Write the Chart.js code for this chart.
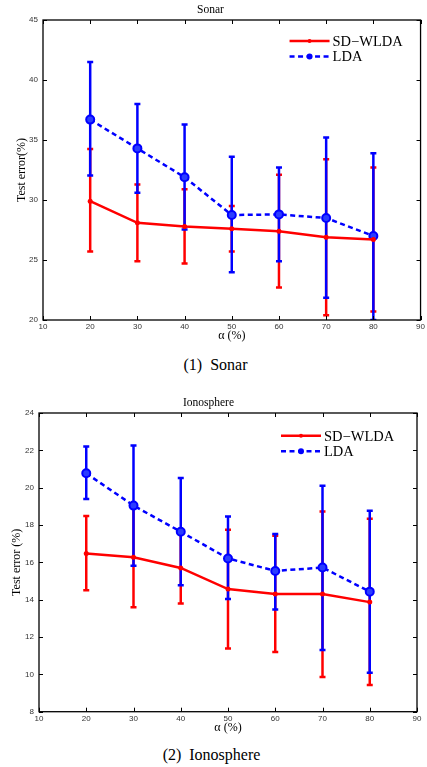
<!DOCTYPE html>
<html>
<head>
<meta charset="utf-8">
<script src="https://cdn.jsdelivr.net/npm/chart.js@4.4.0/dist/chart.umd.min.js"></script>
<style>
  body { margin: 0; background: #fff; width: 427px; height: 767px; position: relative; overflow: hidden; }
  .box { position: absolute; left: 0; width: 427px; }
  .cap { position: absolute; left: 0; width: 427px; text-align: center; font-family: "Liberation Serif", serif; font-size: 16px; line-height: 18px; color: #000; }
</style>
</head>
<body>
<div class="box" style="top:0;height:345px"><canvas id="sonarChart"></canvas></div>
<div class="cap" style="top:356px;left:2px">(1)&nbsp; Sonar</div>
<div class="box" style="top:393px;height:344px"><canvas id="ionoChart"></canvas></div>
<div class="cap" style="top:746px;left:-2px">(2)&nbsp; Ionosphere</div>

<script>
// x values (alpha, %)
const alpha = [20, 30, 40, 50, 60, 70, 80];

// Sonar - mean test error and error bar ends
const sonarSdMean = [29.9, 28.1, 27.8, 27.6, 27.4, 26.9, 26.7];
const sonarSdLow = [25.7, 24.9, 24.7, 25.7, 22.7, 20.4, 20.7];
const sonarSdHigh = [34.25, 31.3, 30.9, 29.5, 32.1, 33.4, 32.7];
const sonarLdaMean = [36.7, 34.3, 31.9, 28.75, 28.8, 28.5, 27.0];
const sonarLdaLow = [32.05, 30.6, 27.55, 23.97, 24.9, 21.86, 20.0];
const sonarLdaHigh = [41.5, 38.0, 36.3, 33.6, 32.7, 35.2, 33.9];

// Ionosphere
const ionoSdMean = [16.48, 16.27, 15.7, 14.57, 14.3, 14.3, 13.87];
const ionoSdLow = [14.5, 13.59, 13.79, 11.39, 11.2, 9.86, 9.43];
const ionoSdHigh = [18.48, 18.95, 17.6, 17.75, 17.43, 18.73, 18.34];
const ionoLdaMean = [20.77, 19.04, 17.64, 16.21, 15.54, 15.72, 14.43];
const ionoLdaLow = [19.4, 15.82, 14.77, 14.04, 13.48, 11.3, 10.09];
const ionoLdaHigh = [22.2, 22.26, 20.52, 18.46, 17.52, 20.1, 18.76];

const seriesNames = ["SD\u2212WLDA", "LDA"];

const RED = "#ff0000";
const BLUE = "#0000ff";

// draws vertical error bars with caps, before the lines
const errorBarPlugin = {
  id: "errorBars",
  beforeDatasetsDraw(chart) {
    const ctx = chart.ctx;
    const xs = chart.scales.x, ys = chart.scales.y;
    ctx.save();
    ctx.beginPath();
    ctx.rect(chart.chartArea.left, chart.chartArea.top, chart.chartArea.width, chart.chartArea.height);
    ctx.clip();
    chart.data.datasets.forEach((ds) => {
      ctx.strokeStyle = ds.borderColor;
      ctx.lineWidth = 2.5;
      ctx.setLineDash([]);
      ds.data.forEach((pt, i) => {
        const x = xs.getPixelForValue(pt.x);
        const yl = ys.getPixelForValue(ds.errLow[i]);
        const yh = ys.getPixelForValue(ds.errHigh[i]);
        ctx.beginPath();
        ctx.moveTo(x, yl);
        ctx.lineTo(x, yh);
        ctx.moveTo(x - 3, yl);
        ctx.lineTo(x + 3, yl);
        ctx.moveTo(x - 3, yh);
        ctx.lineTo(x + 3, yh);
        ctx.stroke();
      });
    });
    ctx.restore();
  }
};

// box around the plot with inward ticks on all four sides, plus legend
const framePlugin = {
  id: "frame",
  afterDraw(chart, args, opts) {
    const ctx = chart.ctx;
    const {left, right, top, bottom} = chart.chartArea;
    const xs = chart.scales.x, ys = chart.scales.y;
    ctx.save();
    ctx.strokeStyle = "#000";
    ctx.lineWidth = 1;
    ctx.beginPath();
    xs.ticks.forEach((t) => {
      const x = Math.round(xs.getPixelForValue(t.value)) + 0.5;
      ctx.moveTo(x, bottom); ctx.lineTo(x, bottom - 4);
      ctx.moveTo(x, top); ctx.lineTo(x, top + 4);
    });
    ys.ticks.forEach((t) => {
      const y = Math.round(ys.getPixelForValue(t.value)) + 0.5;
      ctx.moveTo(left, y); ctx.lineTo(left + 4, y);
      ctx.moveTo(right, y); ctx.lineTo(right - 4, y);
    });
    ctx.stroke();
    ctx.lineWidth = 1.3;
    ctx.strokeRect(left, top, right - left, bottom - top);

    // legend
    const lx = right - opts.legendRight;
    const ly = top + opts.legendTop;
    ctx.font = "14.5px 'Liberation Serif'";
    ctx.textBaseline = "middle";
    ctx.fillStyle = "#000";
    chart.data.datasets.forEach((ds, i) => {
      const y = ly + i * 15.5;
      ctx.strokeStyle = ds.borderColor;
      ctx.lineWidth = 2.5;
      ctx.setLineDash(ds.borderDash || []);
      ctx.beginPath();
      ctx.moveTo(lx, y);
      ctx.lineTo(lx + 40, y);
      ctx.stroke();
      ctx.setLineDash([]);
      ctx.fillStyle = ds.borderColor;
      ctx.beginPath();
      ctx.arc(lx + 20, y, i === 0 ? 2 : 3, 0, Math.PI * 2);
      ctx.fill();
      ctx.fillStyle = "#000";
      ctx.fillText(ds.label, lx + 43, y + 1);
    });
    ctx.restore();
  }
};

function toPoints(means) {
  return means.map((v, i) => ({ x: alpha[i], y: v }));
}

function makeChart(id, cfg) {
  const ctx = document.getElementById(id).getContext("2d");
  return new Chart(ctx, {
    type: "line",
    data: {
      datasets: [
        {
          label: seriesNames[0],
          data: toPoints(cfg.sdMean),
          errLow: cfg.sdLow,
          errHigh: cfg.sdHigh,
          borderColor: RED,
          backgroundColor: RED,
          borderWidth: 2.5,
          pointRadius: 2.5,
          pointBackgroundColor: RED,
          pointBorderWidth: 0,
          tension: 0,
        },
        {
          label: seriesNames[1],
          data: toPoints(cfg.ldaMean),
          errLow: cfg.ldaLow,
          errHigh: cfg.ldaHigh,
          borderColor: BLUE,
          backgroundColor: BLUE,
          borderWidth: 2.5,
          borderDash: [5, 3.5],
          pointRadius: 4,
          pointBackgroundColor: "#2a3cff",
          pointBorderColor: BLUE,
          pointBorderWidth: 2,
          tension: 0,
        },
      ],
    },
    options: {
      responsive: true,
      maintainAspectRatio: false,
      animation: false,
      layout: { padding: { left: 0, right: cfg.padRight, top: 0, bottom: 0 } },
      plugins: {
        legend: { display: false },
        tooltip: { enabled: false },
        title: {
          display: true,
          text: cfg.title,
          color: "#000",
          font: { family: "Liberation Serif", size: 11.5, weight: "normal" },
          padding: { top: 3.1, bottom: 3.1 },
        },
        frame: { legendRight: cfg.legendRight, legendTop: cfg.legendTop },
      },
      scales: {
        x: {
          type: "linear",
          min: 10,
          max: 90,
          afterFit: (s) => { s.height = cfg.xHeight; },
          grid: { display: false, drawTicks: false },
          border: { display: false },
          ticks: { stepSize: 10, padding: 2, color: "#333", font: { family: "Liberation Sans", size: 8 } },
          title: {
            display: true,
            text: "\u03b1 (%)",
            color: "#000",
            font: { family: "Liberation Serif", size: 12 },
            padding: { top: 0, bottom: cfg.xTitlePad },
          },
        },
        y: {
          min: cfg.yMin,
          max: cfg.yMax,
          afterFit: (s) => { s.width = cfg.yWidth; },
          grid: { display: false, drawTicks: false },
          border: { display: false },
          ticks: { stepSize: cfg.yStep, padding: 5, color: "#333", font: { family: "Liberation Sans", size: 8 } },
          title: {
            display: true,
            text: cfg.yTitle,
            color: "#000",
            font: { family: "Liberation Serif", size: 12 },
            padding: { top: cfg.yTitlePad, bottom: 0 },
          },
        },
      },
    },
    plugins: [errorBarPlugin, framePlugin],
  });
}

makeChart("sonarChart", {
  title: "Sonar",
  yTitle: "Test error(%)",
  sdMean: sonarSdMean, sdLow: sonarSdLow, sdHigh: sonarSdHigh,
  ldaMean: sonarLdaMean, ldaLow: sonarLdaLow, ldaHigh: sonarLdaHigh,
  yMin: 20, yMax: 45, yStep: 5,
  yWidth: 43, padRight: 6, xHeight: 25,
  xTitlePad: 1.8, yTitlePad: 14.8,
  legendRight: 131, legendTop: 21,
});

makeChart("ionoChart", {
  title: "Ionosphere",
  yTitle: "Test error (%)",
  sdMean: ionoSdMean, sdLow: ionoSdLow, sdHigh: ionoSdHigh,
  ldaMean: ionoLdaMean, ldaLow: ionoLdaLow, ldaHigh: ionoLdaHigh,
  yMin: 8, yMax: 24, yStep: 2,
  yWidth: 39, padRight: 10, xHeight: 25.3,
  xTitlePad: 1.5, yTitlePad: 9.8,
  legendRight: 136, legendTop: 22.7,
});
</script>
</body>
</html>
